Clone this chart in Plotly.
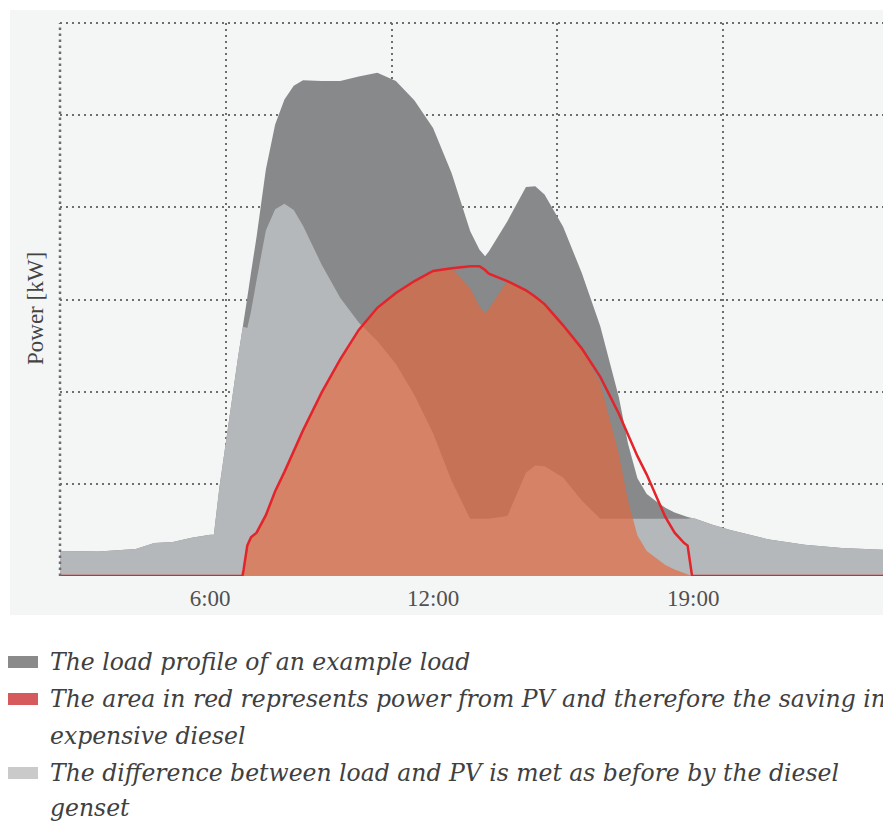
import numpy as np
import plotly.graph_objects as go

# time of day in hours (x axis)
hours = [1.96, 3.0, 4.0, 4.5, 5.0, 5.5, 6.0, 6.1, 6.25, 6.5, 6.75, 6.87, 6.9, 7.0, 7.1,
         7.25, 7.5, 7.75, 8.0, 8.25, 8.5, 9.0, 9.5, 10.0, 10.5, 11.0, 11.5, 12.0, 12.5,
         13.0, 13.25, 13.4, 13.5, 14.0, 14.5, 14.75, 15.0, 15.5, 16.0, 16.5, 17.0, 17.25,
         17.5, 17.75, 18.0, 18.25, 18.5, 18.75, 18.85, 18.97, 19.0, 19.5, 20.0, 21.0,
         22.0, 23.0, 24.27]

# load profile [kW]
load = [2.72, 2.67, 2.94, 3.59, 3.70, 4.14, 4.47, 4.47, 9.6, 16.8, 23.7, 26.8, 27.7, 30.2, 32.9,
        36.8, 44.1, 49.0, 51.7, 53.2, 53.8, 53.7, 53.7, 54.2, 54.6, 53.7, 51.6, 48.6, 43.7,
        37.4, 35.4, 34.7, 35.2, 38.5, 42.2, 42.3, 41.4, 37.9, 32.9, 27.1, 19.4, 14.3,
        10.6, 8.9, 8.1, 7.4, 6.9, 6.5, 6.4, 6.3, 6.3, 5.6, 5.0, 4.0,
        3.4, 3.05, 2.83]

# available PV power [kW] (red line)
pv = [0, 0, 0, 0, 0, 0, 0, 0, 0, 0, 0, 0, 0.65, 3.3, 4.2,
      4.7, 6.6, 9.2, 11.3, 13.5, 15.8, 19.9, 23.5, 26.7, 29.1, 30.7, 32.0, 33.1, 33.4,
      33.6, 33.6, 33.2, 32.8, 32.0, 31.0, 30.3, 29.5, 27.2, 24.7, 21.6, 17.6, 15.3,
      13.0, 11.0, 8.6, 6.4, 4.7, 3.6, 3.3, 0, 0, 0, 0, 0,
      0, 0, 0]

# minimum loading of the diesel genset [kW]
diesel_min = 6.2

load = np.array(load)
pv = np.array(pv)
pv_used = np.minimum(pv, np.maximum(load - diesel_min, 0))
diesel = load - pv_used

X0, X1 = 1.96, 24.27
grid_col = "#6e6e6e"
dots = "2px,4px"

fig = go.Figure()
fig.add_trace(go.Scatter(x=hours, y=load, mode="lines", fill="tozeroy",
                         fillcolor="#87898b", line=dict(width=0), hoverinfo="skip"))
fig.add_trace(go.Scatter(x=hours, y=diesel, mode="lines", fill="tozeroy",
                         fillcolor="#b5b8ba", line=dict(width=0), hoverinfo="skip"))
fig.add_trace(go.Scatter(x=hours, y=pv_used, mode="lines", fill="tozeroy",
                         fillcolor="rgba(230,102,58,0.65)", line=dict(width=0), hoverinfo="skip"))
fig.add_trace(go.Scatter(x=hours, y=pv, mode="lines",
                         line=dict(color="#e3242b", width=2.5), hoverinfo="skip"))

# pixel -> paper helpers (plot area spans x 60..889, y 23..576 on the page)
def px(x):
    return (x - 60) / 829

def py(y):
    return (576 - y) / 553

shapes = [
    dict(type="rect", xref="paper", yref="paper", x0=px(10), x1=px(895), y0=py(615), y1=py(10),
         fillcolor="#f4f6f6", line=dict(width=0), layer="below"),
    dict(type="line", xref="paper", yref="paper", x0=0, x1=0, y0=0, y1=1,
         line=dict(color=grid_col, width=2.5, dash="2.5px,3.5px"), layer="above"),
    dict(type="line", xref="paper", yref="paper", x0=1, x1=1, y0=0, y1=1,
         line=dict(color=grid_col, width=2.5, dash="2.5px,3.5px"), layer="above"),
    dict(type="line", xref="paper", yref="paper", x0=0, x1=1, y0=1, y1=1,
         line=dict(color=grid_col, width=2, dash=dots), layer="above"),
]

# legend block below the chart
legend_rows = [
    ("The load profile of an example load", 662, "#8a8a8a"),
    ("The area in red represents power from PV and therefore the saving in", 699, "#d65a5c"),
    ("expensive diesel", 736, None),
    ("The difference between load and PV is met as before by the diesel", 773, "#cacaca"),
    ("genset", 808, None),
]
annotations = []
for text, yc, col in legend_rows:
    annotations.append(dict(text=text, xref="paper", yref="paper", x=px(48), y=py(yc),
                            xanchor="left", yanchor="middle", showarrow=False,
                            font=dict(family="DejaVu Serif", size=23.5, color="#404040",
                                      style="italic")))
    if col:
        shapes.append(dict(type="rect", xref="paper", yref="paper", x0=px(8), x1=px(38),
                           y0=py(yc + 6), y1=py(yc - 6), fillcolor=col, line=dict(width=0)))

annotations.append(dict(text="Power [kW]", xref="paper", yref="paper", x=px(35), y=py(309),
                        textangle=-90, showarrow=False, xanchor="center", yanchor="middle",
                        font=dict(family="Liberation Serif", size=23, color="#444444")))

# the page body adds an 8px offset, so the figure is 8px smaller than the window
fig.update_layout(
    width=883, height=817,
    margin=dict(l=52, r=2, t=15, b=249),
    paper_bgcolor="white",
    plot_bgcolor="rgba(0,0,0,0)",
    showlegend=False,
    shapes=shapes,
    annotations=annotations,
    xaxis=dict(range=[X0, X1], tickvals=[6, 12, 19], ticktext=["6:00", "12:00", "19:00"],
               showgrid=False, zeroline=False, showline=False, ticks="",
               ticklabelstandoff=6,
               tickfont=dict(family="Liberation Serif", size=23, color="#505050"),
               minor=dict(tickmode="array",
                          tickvals=[X0 + i * (X1 - X0) / 5 for i in range(1, 5)],
                          showgrid=True, gridcolor=grid_col, gridwidth=2, griddash=dots,
                          ticks="")),
    yaxis=dict(range=[0, 60], tickvals=[10, 20, 30, 40, 50], showticklabels=False,
               showgrid=True, gridcolor=grid_col, gridwidth=2, griddash=dots,
               zeroline=False, showline=False, ticks=""),
)

fig.write_html("out.html")
